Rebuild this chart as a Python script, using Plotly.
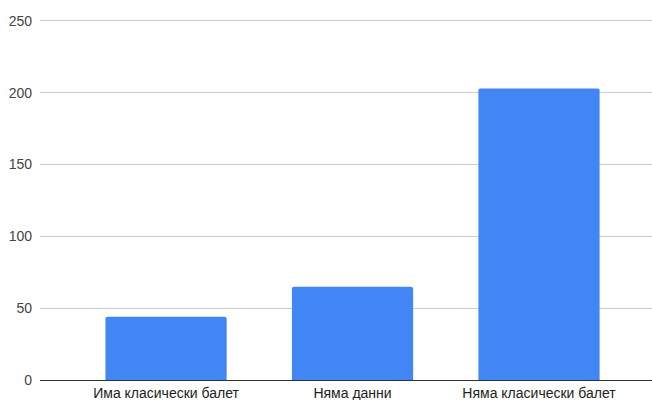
import plotly.graph_objects as go

categories = ["Има класически балет", "Няма данни", "Няма класически балет"]
values = [44, 65, 203]
y_ticks = [0, 50, 100, 150, 200, 250]

fig = go.Figure(go.Bar(
    x=categories, y=values,
    marker=dict(color="#4285F4", cornerradius=2, line=dict(width=0)),
    width=0.65,
))
fig.update_layout(
    width=652, height=400,
    margin=dict(l=40, r=0, t=18, b=20, autoexpand=False),
    paper_bgcolor="white", plot_bgcolor="white",
    font=dict(family="Arial, Liberation Sans, sans-serif", size=14, color="#444444"),
    showlegend=False,
    xaxis=dict(range=[-0.676, 2.606], showgrid=False, zeroline=False,
               showline=True, linecolor="#333333", linewidth=1,
               ticks="", automargin=False, ticklabelstandoff=0,
               tickfont=dict(size=14, color="#222222")),
    yaxis=dict(range=[0, 252], tickvals=y_ticks, showgrid=True,
               gridcolor="#cccccc", gridwidth=1, zeroline=False,
               ticks="", ticklabelstandoff=7, automargin=False,
               tickfont=dict(size=14, color="#444444")),
)
fig.write_html(
    "out.html",
    config={"displayModeBar": False},
    post_script="document.body.style.margin='0';document.body.style.padding='0';",
)
